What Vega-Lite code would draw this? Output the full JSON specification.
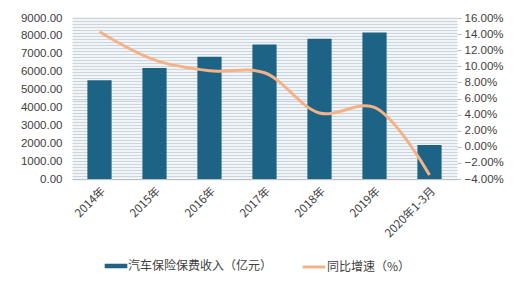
{
  "$schema": "https://vega.github.io/schema/vega-lite/v6.json",
  "width": 385,
  "height": 161,
  "autosize": {"type": "none"},
  "padding": {"left": 72, "right": 63, "top": 18, "bottom": 113},
  "background": "#ffffff",
  "config": {
    "font": "Noto Sans CJK SC",
    "view": {"stroke": null},
    "axis": {"labelColor": "#404040", "labelFontSize": 11.5, "domain": false, "labelFont": "Liberation Sans"}
  },
  "data": {"values": [
    {"year": "2014年", "premium": 5516, "growth": 14.3, "s1": "汽车保险保费收入（亿元）", "s2": "同比增速（%）"},
    {"year": "2015年", "premium": 6199, "growth": 10.8, "s1": "汽车保险保费收入（亿元）", "s2": "同比增速（%）"},
    {"year": "2016年", "premium": 6834, "growth": 9.45, "s1": "汽车保险保费收入（亿元）", "s2": "同比增速（%）"},
    {"year": "2017年", "premium": 7521, "growth": 9.2, "s1": "汽车保险保费收入（亿元）", "s2": "同比增速（%）"},
    {"year": "2018年", "premium": 7834, "growth": 4.2, "s1": "汽车保险保费收入（亿元）", "s2": "同比增速（%）"},
    {"year": "2019年", "premium": 8188, "growth": 4.9, "s1": "汽车保险保费收入（亿元）", "s2": "同比增速（%）"},
    {"year": "2020年1-3月", "premium": 1900, "growth": -3.5, "s1": "汽车保险保费收入（亿元）", "s2": "同比增速（%）"}
  ]},
  "encoding": {
    "x": {"field": "year", "type": "nominal", "sort": null, "title": null,
      "scale": {"paddingInner": 0.56, "paddingOuter": 0.28},
      "axis": {"labelAngle": -45, "ticks": false, "labelFont": "Noto Sans CJK SC", "labelFontSize": 11.5, "domain": true, "domainColor": "#bfbfbf", "labelPadding": 6}}
  },
  "layer": [
    {
      "mark": {"type": "bar", "color": "#1c6386"},
      "encoding": {
        "y": {"field": "premium", "type": "quantitative", "title": null,
          "scale": {"domain": [0, 9000], "nice": false},
          "axis": {"grid": true, "gridColor": "#cbd5de", "gridWidth": 1.5, "ticks": false, "labelPadding": 10,
            "values": [0,166.67,333.33,500,666.67,833.33,1000,1166.67,1333.33,1500,1666.67,1833.33,2000,2166.67,2333.33,2500,2666.67,2833.33,3000,3166.67,3333.33,3500,3666.67,3833.33,4000,4166.67,4333.33,4500,4666.67,4833.33,5000,5166.67,5333.33,5500,5666.67,5833.33,6000,6166.67,6333.33,6500,6666.67,6833.33,7000,7166.67,7333.33,7500,7666.67,7833.33,8000,8166.67,8333.33,8500,8666.67,8833.33,9000],
            "labelExpr": "datum.value % 1000 === 0 ? format(datum.value, '.2f') : ''"}},
        "color": {"field": "s1", "type": "nominal", "title": null,
          "scale": {"range": ["#1c6386"]},
          "legend": {"orient": "none", "legendX": 36, "legendY": 240, "symbolType": "M-1.6,-0.32H1.6V0.32H-1.6Z", "symbolSize": 200, "labelFontSize": 12, "labelColor": "#404040", "labelFont": "Noto Sans CJK SC"}}
      }
    },
    {
      "mark": {"type": "line", "interpolate": "catmull-rom", "strokeWidth": 3, "color": "#f5b288"},
      "encoding": {
        "y": {"field": "growth", "type": "quantitative", "title": null,
          "scale": {"domain": [-4, 16], "nice": false},
          "axis": {"orient": "right", "grid": false, "ticks": true, "tickColor": "#bfbfbf", "tickSize": 4, "labelPadding": 3,
            "values": [-4,-2,0,2,4,6,8,10,12,14,16],
            "labelExpr": "format(datum.value, '.2f') + '%'"}},
        "stroke": {"field": "s2", "type": "nominal", "title": null,
          "scale": {"range": ["#f5b288"]},
          "legend": {"orient": "none", "legendX": 233, "legendY": 240, "symbolType": "M-1.6,0H1.6", "symbolSize": 200, "symbolStrokeWidth": 3, "labelFontSize": 12, "labelColor": "#404040", "labelFont": "Noto Sans CJK SC"}}
      }
    }
  ],
  "resolve": {"scale": {"y": "independent"}}
}
